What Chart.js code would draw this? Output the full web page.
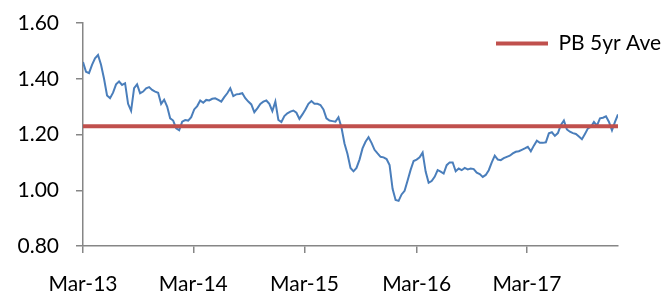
<!DOCTYPE html>
<html>
<head>
<meta charset="utf-8">
<script src="https://cdn.jsdelivr.net/npm/chart.js@4"></script>
<style>
  body { margin: 0; background: #fff; }
  #wrap { width: 670px; height: 293px; }
</style>
</head>
<body>
<div id="wrap"><canvas id="chart" width="670" height="293"></canvas></div>
<script>
// P/B ratio, roughly every 10 days from Mar-13
const pbValues = [
  1.46, 1.425, 1.42, 1.45, 1.473, 1.485, 1.45, 1.40, 1.34, 1.33,
  1.35, 1.38, 1.39, 1.378, 1.384, 1.31, 1.285, 1.366, 1.38, 1.348,
  1.354, 1.366, 1.37, 1.36, 1.354, 1.35, 1.31, 1.325, 1.30, 1.258,
  1.25, 1.222, 1.215, 1.246, 1.252, 1.25, 1.262, 1.29, 1.302, 1.322,
  1.314, 1.324, 1.322, 1.328, 1.33, 1.324, 1.318, 1.334, 1.348, 1.366,
  1.338, 1.344, 1.345, 1.348, 1.33, 1.318, 1.308, 1.28, 1.294, 1.31,
  1.318, 1.322, 1.31, 1.284, 1.318, 1.252, 1.245, 1.266, 1.276, 1.282,
  1.286, 1.278, 1.256, 1.272, 1.29, 1.31, 1.32, 1.31, 1.31, 1.306,
  1.29, 1.258, 1.25, 1.248, 1.246, 1.262, 1.225, 1.168, 1.13, 1.08,
  1.068, 1.08, 1.11, 1.15, 1.174, 1.19, 1.17, 1.145, 1.132, 1.12,
  1.118, 1.112, 1.09, 1.005, 0.965, 0.962, 0.985, 0.998, 1.035, 1.073,
  1.105, 1.11, 1.118, 1.135, 1.067, 1.027, 1.033, 1.048, 1.072, 1.067,
  1.06, 1.09, 1.10, 1.10, 1.068, 1.078, 1.072, 1.08, 1.075, 1.078,
  1.076, 1.063, 1.058, 1.048, 1.055, 1.072, 1.10, 1.124, 1.11, 1.108,
  1.115, 1.12, 1.124, 1.132, 1.138, 1.14, 1.145, 1.15, 1.156, 1.14,
  1.16, 1.178, 1.17, 1.17, 1.172, 1.204, 1.208, 1.195, 1.205, 1.234,
  1.25, 1.218, 1.21, 1.205, 1.202, 1.193, 1.183, 1.202, 1.222, 1.228,
  1.245, 1.232, 1.258, 1.26, 1.265, 1.245, 1.215, 1.245, 1.272
];
const avgValue = 1.23;
const avgLabel = "PB 5yr Ave";
const tickLabels = ["Mar-13", "Mar-14", "Mar-15", "Mar-16", "Mar-17"];
const tickPositions = [0, 36.7, 73.7, 111, 147.7];

const lastIdx = pbValues.length - 1;
const fontFamily = "Lato, 'Open Sans', sans-serif";

// move the legend inside the plot, top right
const legendMover = {
  id: "legendMover",
  afterLayout(chart) {
    const lg = chart.legend;
    if (!lg) return;
    const w = lg.width;
    lg.left = 496;
    lg.right = 496 + w;
    lg.top = 33;
    lg.bottom = 33 + lg.height;
  }
};

new Chart(document.querySelector("#chart"), {
  type: "line",
  data: {
    datasets: [
      {
        label: avgLabel,
        data: [{ x: 0, y: avgValue }, { x: lastIdx, y: avgValue }],
        borderColor: "#C0504D",
        backgroundColor: "#C0504D",
        borderWidth: 4,
        borderCapStyle: "round",
        pointRadius: 0,
      },
      {
        label: "PB",
        data: pbValues.map((v, i) => ({ x: i, y: v })),
        borderColor: "#4A7EBB",
        borderWidth: 2,
        pointRadius: 0,
        tension: 0,
      },
    ],
  },
  options: {
    responsive: false,
    devicePixelRatio: 1,
    animation: false,
    layout: { padding: { top: 23, right: 52, left: 0, bottom: 0 } },
    plugins: {
      tooltip: { enabled: false },
      legend: {
        display: true,
        position: "chartArea",
        align: "start",
        labels: {
          padding: 0,
          usePointStyle: true,
          pointStyle: "line",
          pointStyleWidth: 52,
          color: "#000",
          font: { family: fontFamily, size: 21 },
          filter: (item) => item.datasetIndex === 0,
        },
      },
    },
    scales: {
      x: {
        type: "linear",
        min: 0,
        max: lastIdx,
        afterBuildTicks: (scale) => {
          scale.ticks = tickPositions.map((v) => ({ value: v }));
        },
        afterFit: (scale) => {
          scale.height = 47;
        },
        ticks: {
          autoSkip: false,
          maxRotation: 0,
          padding: 19,
          color: "#000",
          font: { family: fontFamily, size: 21 },
          callback: (val, idx) => tickLabels[idx],
        },
        grid: {
          drawOnChartArea: false,
          tickLength: 7,
          color: "#868686",
          lineWidth: 1.5,
        },
        border: { color: "#868686", width: 1.5 },
      },
      y: {
        min: 0.8,
        max: 1.6,
        afterFit: (scale) => {
          scale.width = 83;
          scale.paddingTop = 0;
          scale.paddingBottom = 0;
        },
        ticks: {
          stepSize: 0.2,
          padding: 17,
          color: "#000",
          font: { family: fontFamily, size: 21 },
          callback: (val) => val.toFixed(2),
        },
        grid: {
          drawOnChartArea: false,
          tickLength: 7,
          color: "#868686",
          lineWidth: 1.5,
        },
        border: { color: "#868686", width: 1.5 },
      },
    },
  },
  plugins: [legendMover],
});
</script>
</body>
</html>
